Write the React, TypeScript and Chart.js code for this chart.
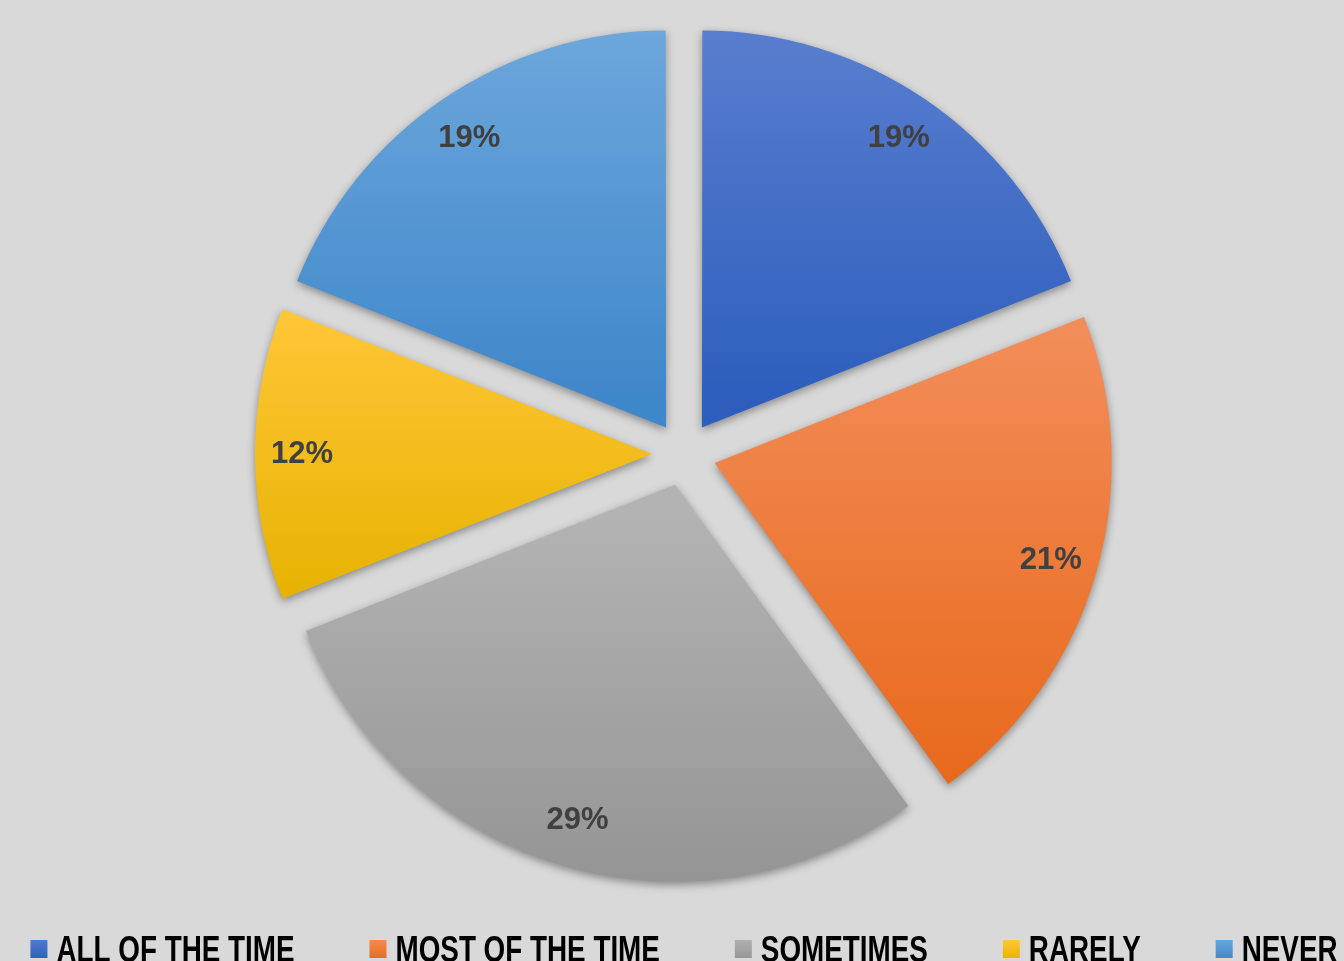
import React, { useEffect, useRef } from "react";
import { Chart, registerables } from "chart.js";

Chart.register(...registerables);

const categories = ["ALL OF THE TIME", "MOST OF THE TIME", "SOMETIMES", "RARELY", "NEVER"];
const values = [19, 21, 29, 12, 19];
const percentLabels = ["19%", "21%", "29%", "12%", "19%"];
const topColors = ["#5c80d0", "#f28d59", "#b3b3b3", "#ffc738", "#70a9dd"];
const bottomColors = ["#2d5ebd", "#e8681a", "#929292", "#e6b200", "#3e87ca"];
const legendTop = ["#5079cc", "#f38a52", "#b0b0b0", "#ffc637", "#69a4da"];
const legendBottom = ["#2f60bf", "#ea6d20", "#979797", "#eab600", "#4389cc"];

const PIE_RADIUS = 397;
const LABEL_FONT = "bold 31px 'Liberation Sans', 'DejaVu Sans', sans-serif";
const LEGEND_FONT = "bold 36px 'Liberation Sans', 'DejaVu Sans', sans-serif";
const LEGEND_SX = 0.773;

function yRange(cx: number, cy: number, r: number, s: number, e: number) {
  const ys = [cy, cy + r * Math.sin(s), cy + r * Math.sin(e)];
  for (let k = -6; k <= 6; k++) {
    const a = Math.PI / 2 + k * Math.PI;
    if (a > s && a < e) ys.push(cy + r * Math.sin(a));
  }
  return [Math.min(...ys), Math.max(...ys)];
}

const piePlugin = {
  id: "piePlugin",
  beforeDatasetsDraw(chart: any) {
    const ctx = chart.ctx;
    const meta = chart.getDatasetMeta(0);
    meta.data.forEach((arc: any, i: number) => {
      const off = (arc.options.offset || 0) / 4;
      const circ = arc.endAngle - arc.startAngle;
      const fix = 1 - Math.sin(Math.min(Math.PI, circ || 0));
      // keep every exploded slice at the same visible radius
      arc.outerRadius = PIE_RADIUS - off * fix;
      const mid = (arc.startAngle + arc.endAngle) / 2;
      const cx = arc.x + Math.cos(mid) * off;
      const cy = arc.y + Math.sin(mid) * off;
      const [y0, y1] = yRange(cx, cy, PIE_RADIUS, arc.startAngle, arc.endAngle);
      const g = ctx.createLinearGradient(0, y0, 0, y1);
      g.addColorStop(0, topColors[i]);
      g.addColorStop(1, bottomColors[i]);
      arc.options.backgroundColor = g;
    });
    ctx.save();
    ctx.shadowColor = "rgba(0,0,0,0.38)";
    ctx.shadowBlur = 9;
    ctx.shadowOffsetX = 0;
    ctx.shadowOffsetY = 3;
  },
  afterDatasetsDraw(chart: any) {
    const ctx = chart.ctx;
    ctx.restore();
    const meta = chart.getDatasetMeta(0);
    ctx.save();
    ctx.font = LABEL_FONT;
    ctx.fillStyle = "#404040";
    ctx.textAlign = "center";
    ctx.textBaseline = "middle";
    meta.data.forEach((arc: any, i: number) => {
      const mid = (arc.startAngle + arc.endAngle) / 2;
      const d = PIE_RADIUS * 0.962;
      ctx.fillText(percentLabels[i], arc.x + Math.cos(mid) * d, arc.y + Math.sin(mid) * d);
    });
    ctx.restore();
  },
  afterDraw(chart: any) {
    // legend row (condensed caps), centred under the pie
    const ctx = chart.ctx;
    const box = 17;
    const boxH = 18;
    const gap = 9;
    const itemGap = 75;
    ctx.save();
    ctx.font = LEGEND_FONT;
    const widths = categories.map((c) => ctx.measureText(c).width * LEGEND_SX);
    const total =
      widths.reduce((a, b) => a + b, 0) + categories.length * (box + gap) + (categories.length - 1) * itemGap;
    const centerX = (chart.chartArea.left + chart.chartArea.right) / 2;
    let x = centerX - total / 2;
    const baseline = chart.height - 14;
    const boxTop = baseline - 22;
    categories.forEach((c, i) => {
      const g = ctx.createLinearGradient(0, boxTop, 0, boxTop + boxH);
      g.addColorStop(0, legendTop[i]);
      g.addColorStop(1, legendBottom[i]);
      ctx.fillStyle = g;
      ctx.fillRect(x, boxTop, box, boxH);
      const tx = x + box + gap;
      ctx.save();
      ctx.translate(tx, baseline);
      ctx.scale(LEGEND_SX, 1);
      ctx.fillStyle = "#000000";
      ctx.textAlign = "left";
      ctx.textBaseline = "alphabetic";
      ctx.fillText(c, 0, 0);
      ctx.restore();
      x = tx + widths[i] + itemGap;
    });
    ctx.restore();
  },
};

export default function App() {
  const ref = useRef<HTMLCanvasElement | null>(null);

  useEffect(() => {
    if (!ref.current) return;
    const chart = new Chart(ref.current, {
      type: "pie",
      data: {
        labels: categories,
        datasets: [
          {
            data: values,
            backgroundColor: legendTop,
            borderWidth: 0,
            offset: 128,
            hoverOffset: 128,
          } as any,
        ],
      },
      options: {
        animation: false,
        responsive: true,
        maintainAspectRatio: false,
        events: [],
        radius: PIE_RADIUS,
        layout: { padding: { top: 0, bottom: 68, left: 0, right: 0 } },
        plugins: {
          tooltip: { enabled: false },
          legend: { display: false },
        },
      } as any,
      plugins: [piePlugin],
    });
    return () => chart.destroy();
  }, []);

  return (
    <div
      style={{
        position: "fixed",
        left: 0,
        top: 0,
        width: 1344,
        height: 961,
        overflow: "hidden",
        background: "#d9d9d9",
      }}
    >
      <div style={{ position: "absolute", left: -100, top: 0, width: 1568, height: 976 }}>
        <canvas ref={ref} />
      </div>
    </div>
  );
}
